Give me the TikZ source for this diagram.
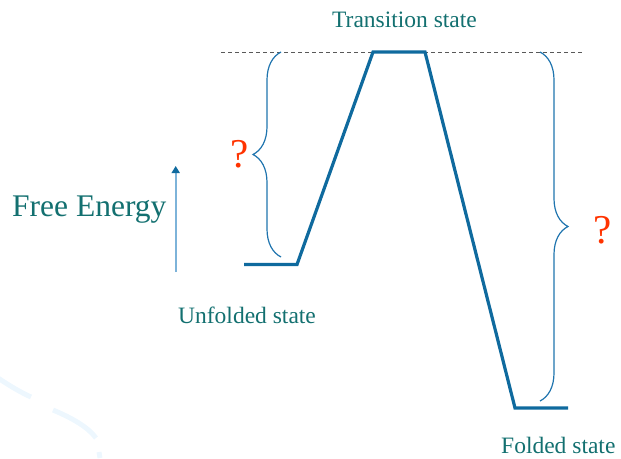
\documentclass[tikz,border=0pt]{standalone}
\usepackage{fontspec}
\setmainfont{Liberation Serif}
\usetikzlibrary{arrows.meta, decorations.pathreplacing}
\definecolor{c1}{HTML}{0F6A9E}
\definecolor{c2}{HTML}{1F74AE}
\definecolor{c3}{HTML}{FF3300}
\definecolor{labelcolor}{HTML}{137070}
\definecolor{axiscolor}{HTML}{7DB3D9}
\definecolor{swooshcolor}{HTML}{EDF7FE}

\begin{document}
\begin{tikzpicture}[
    x=1pt, y=1pt,
    every node/.style={inner sep=0pt},
    lab/.style={font=\fontsize{23.5}{26}\selectfont, text=labelcolor},
    ask/.style={font=\fontsize{41}{44}\selectfont, text=c3},
    profile/.style={c1, line width=3.2pt, line join=miter},
    brc/.style={decorate, decoration={brace, amplitude=28pt}, c2, line width=1.2pt},
    guide/.style={black!65, line width=1pt, dash pattern=on 4pt off 3pt},
    axis/.style={-{Triangle[length=7pt, width=8pt, color=c1]}, axiscolor, line width=1.6pt},
    swoosh/.style={swooshcolor, line width=5pt},
]
\useasboundingbox (0,0) rectangle (621,-458);

% ============================================================ background marks
\draw[swoosh] (-2,-378) .. controls (10,-386) and (20,-392) .. (31,-397);
\draw[swoosh] (53,-410) .. controls (72,-418) and (88,-427) .. (96,-438);
\draw[swoosh] (99,-452) -- (100,-458);

% ============================================================ the axis
\coordinate (axisfoot) at (175.7,-272);
\coordinate (axistop) at (175.7,-166);
\draw[axis] (axisfoot) -- (axistop);
\node[lab, font=\fontsize{31.5}{34}\selectfont, anchor=base west] (freeenergy) at (12,-216) {Free Energy};

% ============================================================ the barrier level
\coordinate (guidestart) at (221,-52);
\coordinate (guideend) at (583,-52);
\draw[guide] (guidestart) -- (guideend);

% ============================================================ the energy profile
\coordinate (unfoldedleft) at (244,-264.5);
\coordinate (unfoldedright) at (297,-264.5);
\coordinate (topleft) at (373,-52);
\coordinate (topright) at (425,-52);
\coordinate (foldedleft) at (515,-408);
\coordinate (foldedright) at (568,-408);
\draw[profile] (unfoldedleft) -- (unfoldedright) -- (topleft) -- (topright)
    -- (foldedleft) -- (foldedright);

\node[lab, anchor=base] (transition) at (404.5,-27) {Transition state};
\node[lab, anchor=base west] (unfolded) at (178,-323) {Unfolded state};
\node[lab, anchor=base west] (folded) at (501,-453) {Folded state};

% ============================================================ the two gaps
\draw[brc] (281,-257) -- (281,-52);
\node[ask, anchor=base] (askleft) at (240,-167) {?};

\draw[brc] (540,-52) -- (540,-401);
\node[ask, anchor=base] (askright) at (603,-243) {?};

\end{tikzpicture}
\end{document}
